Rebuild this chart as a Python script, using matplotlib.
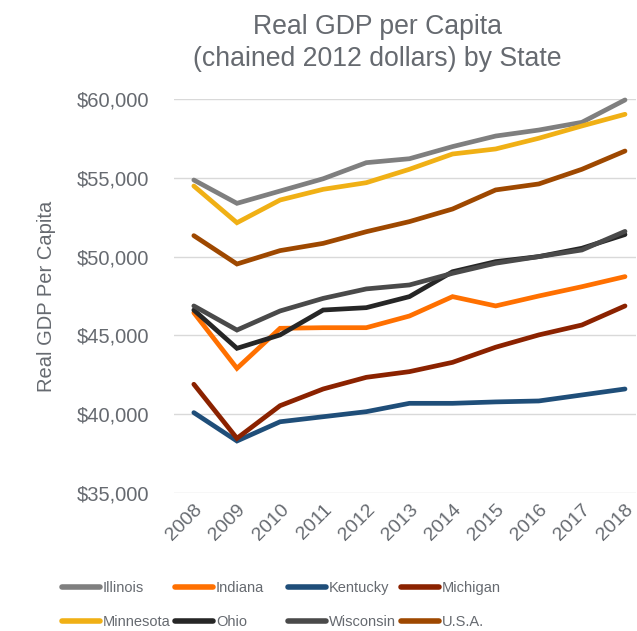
import numpy as np
import matplotlib.pyplot as plt

plt.rcParams['font.family'] = ['Liberation Sans', 'DejaVu Sans']

years = ['2008', '2009', '2010', '2011', '2012', '2013', '2014', '2015', '2016', '2017', '2018']

illinois = [54860, 53380, 54160, 54940, 55960, 56210, 56980, 57650, 58030, 58520, 59940]
indiana = [46440, 42910, 45450, 45490, 45490, 46230, 47460, 46870, 47500, 48090, 48730]
kentucky = [40100, 38300, 39520, 39840, 40160, 40690, 40690, 40780, 40840, 41220, 41600]
michigan = [41900, 38470, 40540, 41600, 42340, 42700, 43290, 44250, 45030, 45660, 46870]
minnesota = [54480, 52150, 53590, 54270, 54690, 55540, 56510, 56830, 57510, 58290, 59030]
ohio = [46610, 44180, 45030, 46610, 46760, 47460, 49040, 49680, 50000, 50530, 51400]
wisconsin = [46870, 45340, 46550, 47350, 47950, 48200, 48940, 49580, 50000, 50420, 51600]
usa = [51330, 49530, 50380, 50840, 51580, 52220, 53020, 54230, 54610, 55540, 56700]

series = [
    ('Illinois', illinois, '#7f7f7f'),
    ('Indiana', indiana, '#ff7000'),
    ('Kentucky', kentucky, '#1f4e79'),
    ('Michigan', michigan, '#8b2200'),
    ('Minnesota', minnesota, '#f0b015'),
    ('Ohio', ohio, '#262626'),
    ('Wisconsin', wisconsin, '#4a4a4a'),
    ('U.S.A.', usa, '#9e4800'),
]

txt = '#666a70'
W, H = 637, 631

fig = plt.figure(figsize=(W/100, H/100), dpi=100)
ax = fig.add_axes([174/W, 1 - 493/H, (636 - 174)/W, (493 - 99)/H])

x = np.arange(len(years))
lines = []
for name, vals, col in series:
    ln, = ax.plot(x, vals, color=col, lw=3.4, label=name, solid_capstyle='round',
                  solid_joinstyle='miter', clip_on=False)
    lines.append(ln)

ax.set_ylim(35000, 60000)
ax.set_yticks(np.arange(35000, 60001, 5000))
ax.set_yticklabels(['${:,}'.format(v) for v in range(35000, 60001, 5000)])
ax.set_xlim(-0.46, 10.255)
ax.set_xticks(x)
ax.set_xticklabels(years, rotation=45, ha='right', rotation_mode='anchor')
ax.grid(axis='y', color='#d9d9d9', lw=1)
ax.set_axisbelow(True)
for s in ax.spines.values():
    s.set_visible(False)
ax.tick_params(length=0, labelsize=14.5, colors=txt)
ax.tick_params(axis='y', pad=18)
ax.tick_params(axis='x', labelsize=14, pad=6)

ax.set_ylabel('Real GDP Per Capita', fontsize=14.5, color=txt, labelpad=15)
fig.text(377.5/W, 1 - 14/H, 'Real GDP per Capita\n(chained 2012 dollars) by State',
         ha='center', va='top', fontsize=19.2, color=txt, linespacing=1.3)

# legend: 2 rows x 4 equally spaced columns, row-wise order
for i, ln in enumerate(lines):
    row, col = divmod(i, 4)
    leg = fig.legend(handles=[ln], loc='center left',
                     bbox_to_anchor=((62 + 113*col)/W, 1 - (588 + 34*row)/H),
                     frameon=False, borderpad=0, borderaxespad=0,
                     fontsize=10.5, handlelength=2.6, handletextpad=0.2)
    leg.get_texts()[0].set_color(txt)
    leg.get_lines()[0].set_linewidth(4)

fig.savefig('out.png', dpi=100)
